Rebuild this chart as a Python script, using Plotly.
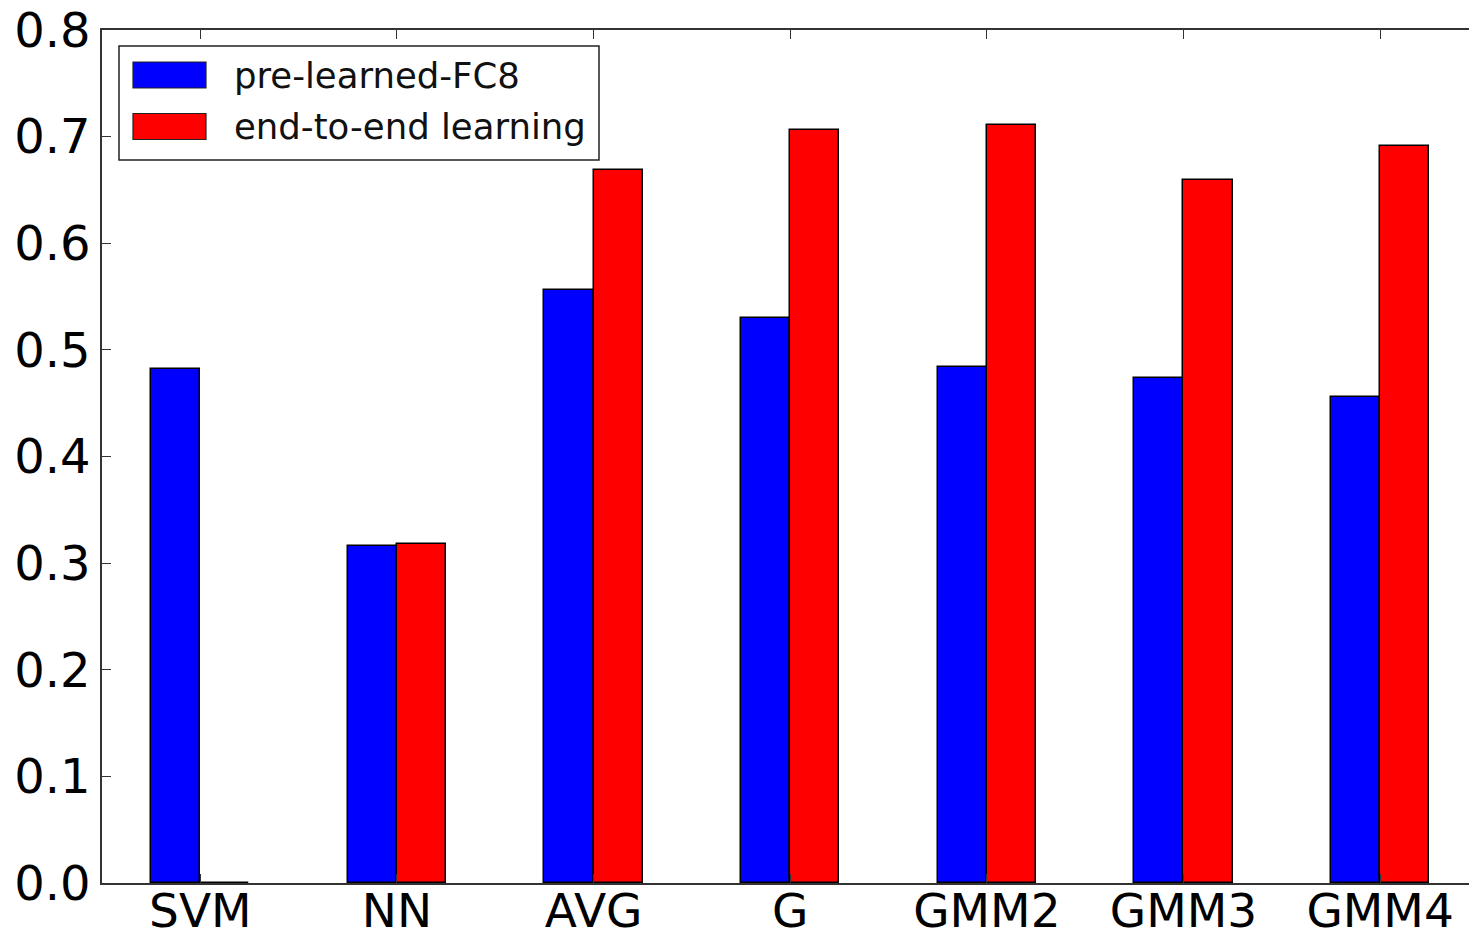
import plotly.graph_objects as go

# Categories and accuracies for the two feature settings
methods = ["SVM", "NN", "AVG", "G", "GMM2", "GMM3", "GMM4"]
pre_learned_fc8 = [0.482, 0.316, 0.556, 0.530, 0.484, 0.474, 0.456]
end_to_end = [0.0, 0.318, 0.669, 0.706, 0.711, 0.659, 0.691]
series_names = ["pre-learned-FC8", "end-to-end learning"]
series_colors = ["#0000FF", "#FF0000"]
y_ticks = [0.0, 0.1, 0.2, 0.3, 0.4, 0.5, 0.6, 0.7, 0.8]

W, H = 1469, 935
ML, MR, MT, MB = 102, 0, 30, 52
PW, PH = W - ML - MR, H - MT - MB
FONT = "DejaVu Sans"


def px(x):
    return (x - ML) / PW


def py(y):
    return (H - MB - y) / PH


fig = go.Figure()
for name, vals, col, off in zip(series_names, [pre_learned_fc8, end_to_end],
                                series_colors, [-0.25, 0.0]):
    fig.add_trace(go.Bar(
        x=methods, y=vals, name=name, width=0.25, offset=off,
        marker=dict(color=col, line=dict(color="black", width=1.5)),
        showlegend=False,
    ))

# Legend box drawn by hand so the swatches are wide rectangles
shapes = [dict(type="rect", xref="paper", yref="paper",
               x0=px(119), x1=px(599), y0=py(160), y1=py(46),
               line=dict(color="#222", width=1.5), fillcolor="white")]
annotations = []
for i, (name, col) in enumerate(zip(series_names, series_colors)):
    cy = 75 + i * 51.5
    shapes.append(dict(type="rect", xref="paper", yref="paper",
                       x0=px(133), x1=px(206), y0=py(cy + 13), y1=py(cy - 13),
                       line=dict(color="#222", width=1.2), fillcolor=col))
    annotations.append(dict(xref="paper", yref="paper", x=px(232), y=py(cy),
                            xanchor="left", yanchor="middle", showarrow=False,
                            text=name, font=dict(family=FONT, size=35.5, color="#111")))

fig.update_layout(
    width=W, height=H,
    margin=dict(l=ML, r=MR, t=MT, b=MB, pad=0),
    paper_bgcolor="white", plot_bgcolor="white",
    barmode="overlay",
    bargap=0,
    shapes=shapes, annotations=annotations,
    font=dict(family=FONT, color="black"),
    xaxis=dict(
        type="category", range=[-0.5, 6.452], automargin=False,
        showline=True, linecolor="#333", linewidth=1.5, mirror="ticks",
        ticks="inside", ticklen=9, tickcolor="#333", tickwidth=1.2,
        ticklabelstandoff=-14,
        showgrid=False, zeroline=False,
        tickfont=dict(family=FONT, size=47, color="black"),
    ),
    yaxis=dict(
        range=[0, 0.8], tickvals=y_ticks, automargin=False,
        ticktext=[f"{v:.1f}" for v in y_ticks],
        showline=True, linecolor="#333", linewidth=1.5,
        ticks="inside", ticklen=9, tickcolor="#333", tickwidth=1.2,
        showgrid=False, zeroline=False,
        tickfont=dict(family=FONT, size=48, color="black"),
    ),
    yaxis2=dict(
        overlaying="y", side="right", range=[0, 0.8], tickvals=y_ticks,
        automargin=False,
        showticklabels=False, showline=False, showgrid=False, zeroline=False,
        ticks="inside", ticklen=6, tickcolor="#ccc", tickwidth=1.2,
    ),
)

fig.write_html("out.html")
